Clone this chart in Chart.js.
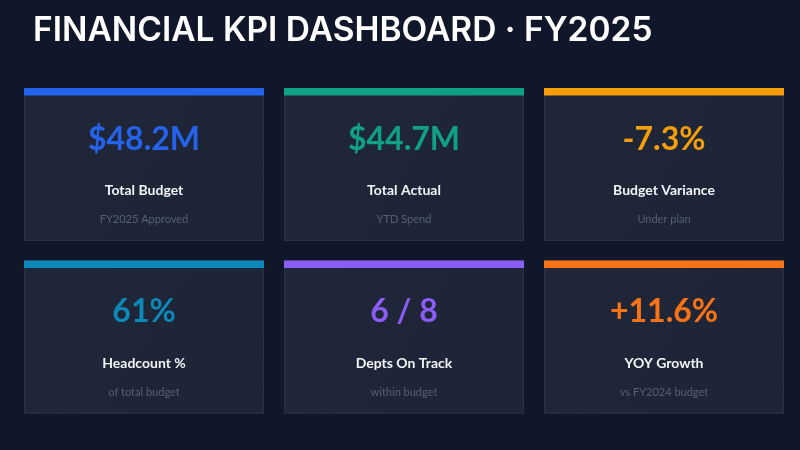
<!DOCTYPE html>
<html>
<head>
<meta charset="utf-8">
<script src="https://cdn.jsdelivr.net/npm/chart.js@4.4.1/dist/chart.umd.min.js"></script>
<style>
  html, body { margin: 0; padding: 0; background: #10172a; }
  #wrap { width: 800px; height: 450px; }
</style>
</head>
<body>
<div id="wrap"><canvas id="kpiChart" width="800" height="450"></canvas></div>
<script>
// KPI tiles, left to right, top to bottom
const kpiValues = ["$48.2M", "$44.7M", "-7.3%", "61%", "6 / 8", "+11.6%"];
const kpiLabels = ["Total Budget", "Total Actual", "Budget Variance", "Headcount %", "Depts On Track", "YOY Growth"];
const kpiNotes = ["FY2025 Approved", "YTD Spend", "Under plan", "of total budget", "within budget", "vs FY2024 budget"];
const accentColors = ["#2563eb", "#10a085", "#f59e0b", "#0e87b9", "#8b5cf6", "#f97316"];

const ctx = document.getElementById("kpiChart");

const kpiTiles = {
  id: "kpiTiles",
  beforeDraw(chart) {
    const c = chart.ctx;
    c.save();
    c.fillStyle = "#10172a";
    c.fillRect(0, 0, chart.width, chart.height);
    c.restore();
  },
  afterDraw(chart) {
    const c = chart.ctx;
    const cols = 3;
    const left = 24, top = 88, w = 240, h = 153, gapX = 20, gapY = 19.5;
    c.save();
    kpiValues.forEach((val, i) => {
      const x = left + (i % cols) * (w + gapX);
      const y = top + Math.floor(i / cols) * (h + gapY);
      const grad = c.createLinearGradient(x, y, x + w, y + h);
      grad.addColorStop(0, "#1f2739");
      grad.addColorStop(1, "#1c2436");
      c.fillStyle = grad;
      c.fillRect(x, y, w, h);
      c.strokeStyle = "#2a3347";
      c.lineWidth = 1;
      c.strokeRect(x + 0.5, y + 0.5, w - 1, h - 1);
      c.fillStyle = accentColors[i];
      c.fillRect(x, y, w, 7.5);

      const cx = x + w / 2;
      c.textAlign = "center";
      c.textBaseline = "middle";
      c.fillStyle = accentColors[i];
      c.font = "bold 32px Lato";
      c.fillText(val, cx, y + 51.5);
      c.fillStyle = "#f1f5f9";
      c.font = "bold 14px Lato";
      c.fillText(kpiLabels[i], cx, y + 102.5);
      c.fillStyle = "#566074";
      c.font = "11px Lato";
      c.fillText(kpiNotes[i], cx, y + 131.5);
    });
    c.restore();
  }
};

new Chart(ctx, {
  type: "bar",
  data: { labels: [], datasets: [] },
  options: {
    responsive: false,
    animation: false,
    devicePixelRatio: 1,
    layout: { padding: { left: 33, top: 0, right: 0, bottom: 0 } },
    scales: { x: { display: false }, y: { display: false } },
    plugins: {
      legend: { display: false },
      tooltip: { enabled: false },
      title: {
        display: true,
        text: "FINANCIAL KPI DASHBOARD · FY2025",
        align: "start",
        color: "#ffffff",
        font: { family: "Inter", size: 33.5, weight: "600" },
        padding: { top: 11, bottom: 0 },
      },
    },
  },
  plugins: [kpiTiles],
});
</script>
</body>
</html>
